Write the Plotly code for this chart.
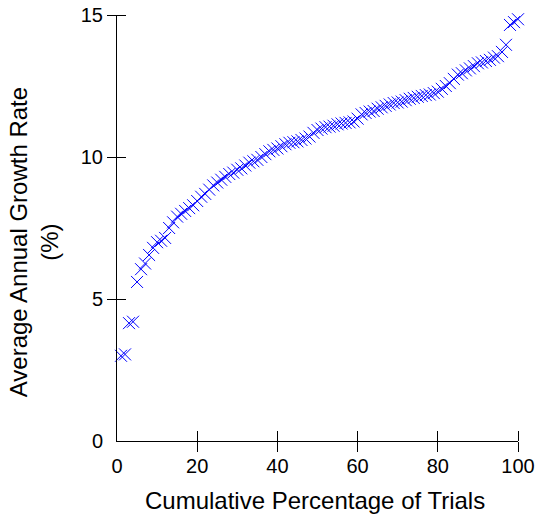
import plotly.graph_objects as go

# Cumulative percentage of trials (x) and sorted average annual growth rate (y, %)
trial_pct = list(range(1, 101))
growth_rate = [
    3.00, 3.05, 4.15, 4.20, 5.60, 6.05, 6.25, 6.55, 6.80, 7.00,
    7.05, 7.15, 7.50, 7.70, 7.90, 8.00, 8.10, 8.20, 8.30, 8.45,
    8.60, 8.70, 8.85, 9.00, 9.10, 9.20, 9.30, 9.40, 9.45, 9.55,
    9.60, 9.70, 9.80, 9.85, 9.90, 10.00, 10.10, 10.20, 10.25, 10.30,
    10.38, 10.45, 10.50, 10.52, 10.55, 10.60, 10.65, 10.72, 10.85, 10.95,
    11.00, 11.05, 11.07, 11.10, 11.15, 11.18, 11.20, 11.22, 11.25, 11.35,
    11.50, 11.55, 11.60, 11.62, 11.70, 11.75, 11.80, 11.85, 11.90, 11.92,
    11.95, 12.00, 12.05, 12.08, 12.12, 12.15, 12.18, 12.20, 12.25, 12.30,
    12.40, 12.50, 12.60, 12.75, 12.90, 12.95, 13.05, 13.12, 13.20, 13.30,
    13.33, 13.38, 13.42, 13.50, 13.55, 13.70, 13.95, 14.65, 14.75, 14.85,
]

x_tick_vals = [0, 20, 40, 60, 80, 100]
x_tick_marks = [20, 40, 60, 80, 100]
y_tick_vals = [0, 5, 10, 15]
y_tick_marks = [5, 10, 15]

x_title = "Cumulative Percentage of Trials"
y_title = "Average Annual Growth Rate<br>(%)"

FONT = "Liberation Sans, Arial, sans-serif"

fig = go.Figure()
fig.add_trace(go.Scatter(
    x=trial_pct, y=growth_rate, mode="markers",
    marker=dict(symbol="x-thin", size=12, line=dict(color="rgb(0,0,255)", width=1)),
    cliponaxis=False, showlegend=False, hoverinfo="skip",
))
# helper trace for the overlay axes carrying the outside half of the tick marks
fig.add_trace(go.Scatter(x=[None], y=[None], xaxis="x2", yaxis="y2",
                         mode="markers", showlegend=False, hoverinfo="skip"))

common = dict(showgrid=False, zeroline=False, fixedrange=True, automargin=False)

fig.update_layout(
    width=537, height=523, autosize=False,
    margin=dict(l=117, r=19, t=15, b=82, pad=0, autoexpand=False),
    paper_bgcolor="white", plot_bgcolor="white",
    font=dict(family=FONT, size=20, color="black"),
    xaxis=dict(range=[0, 100], tickmode="array", tickvals=x_tick_vals,
               ticks="", showline=True, linecolor="black", linewidth=1,
               ticklabelstandoff=7,
               minor=dict(tickmode="array", tickvals=x_tick_marks, ticks="inside",
                          ticklen=10, tickcolor="black", tickwidth=1, showgrid=False),
               **common),
    yaxis=dict(range=[0, 15], tickmode="array", tickvals=y_tick_vals,
               ticks="", showline=True, linecolor="black", linewidth=1,
               ticklabelstandoff=9,
               minor=dict(tickmode="array", tickvals=y_tick_marks, ticks="inside",
                          ticklen=9, tickcolor="black", tickwidth=1, showgrid=False),
               **common),
    xaxis2=dict(range=[0, 100], overlaying="x", side="bottom", tickmode="array",
                tickvals=x_tick_marks, ticks="outside", ticklen=10, tickcolor="black",
                tickwidth=1, showticklabels=False, showline=False, **common),
    yaxis2=dict(range=[0, 15], overlaying="y", side="left", tickmode="array",
                tickvals=y_tick_marks, ticks="outside", ticklen=9, tickcolor="black",
                tickwidth=1, showticklabels=False, showline=False, **common),
    annotations=[
        dict(text=x_title, xref="paper", yref="paper", x=0.495, y=-0.14,
             xanchor="center", yanchor="middle", showarrow=False,
             font=dict(family=FONT, size=24, color="black")),
        dict(text=y_title, xref="paper", yref="paper", x=-0.205, y=0.466,
             xanchor="center", yanchor="middle", textangle=-90, showarrow=False,
             font=dict(family=FONT, size=24, color="black")),
    ],
)

fig.write_html(
    "out.html",
    config={"displayModeBar": False, "staticPlot": True},
    post_script="document.body.style.margin='0';document.body.style.overflow='hidden';",
)
